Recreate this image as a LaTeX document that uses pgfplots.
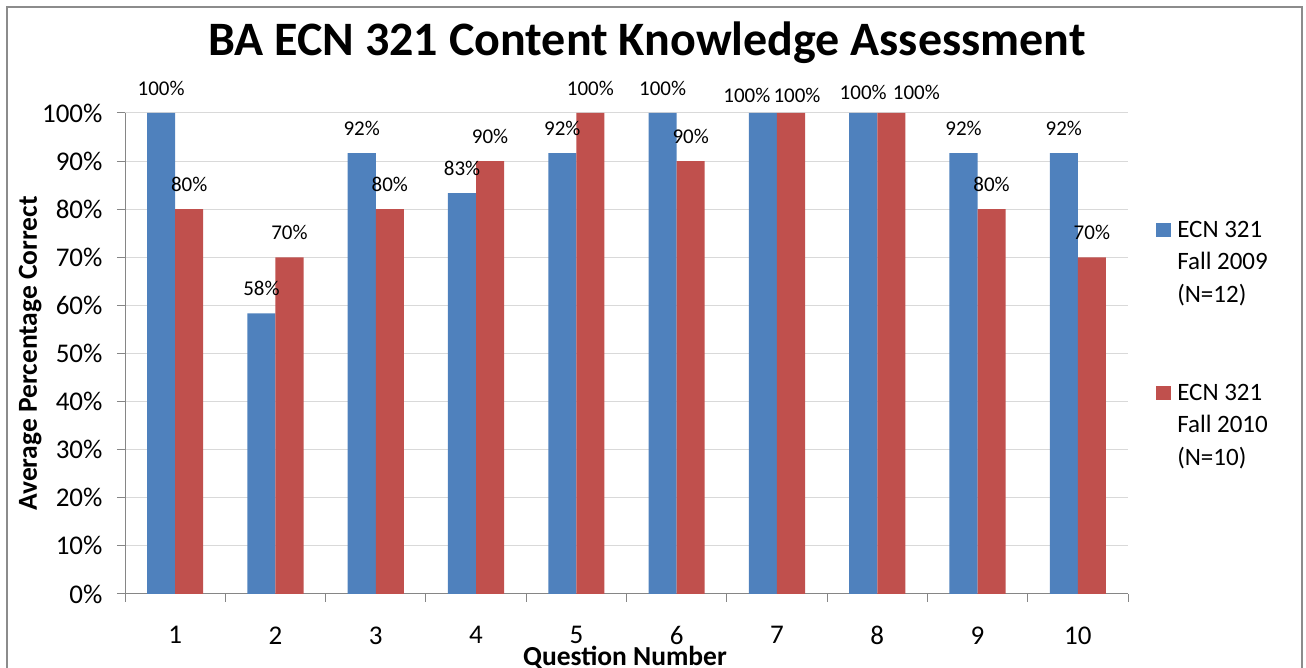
\documentclass[border=0pt]{standalone}
\usepackage{fontspec}
\setmainfont{Carlito}
\usepackage{pgfplots}
\usepackage{pgfplotstable}
\pgfplotsset{compat=1.18}
\definecolor{cblue}{HTML}{4F81BD}
\definecolor{cred}{HTML}{C0504D}
\definecolor{axgray}{HTML}{868686}
\definecolor{gridgray}{HTML}{D9D9D9}
\definecolor{framegray}{HTML}{8C8C8C}

% q: question; a: Fall 2009; b: Fall 2010
% la/lb: x position of the data label; dya/dyb: label offset above bar (pt)
\pgfplotstableread{
q  a     la    dya  b    lb    dyb
1  100   0.86  25   80   1.14  25
2  58.33 1.86  25   70   2.14  25
3  91.67 2.86  25   80   3.14  25
4  83.33 3.86  25   90   4.14  25
5  91.67 4.86  25   100  5.14  25
6  100   5.86  25   90   6.14  25
7  100   6.70  18   100  7.20  18
8  100   7.86  21   100  8.39  21
9  91.67 8.86  25   80   9.14  25
10 91.67 9.86  25   70   10.14 25
}\data

\begin{document}
\begin{tikzpicture}[x=1pt,y=1pt]
\useasboundingbox (0,0) rectangle (1306,668);
\draw[framegray, line width=2pt] (7,-10) rectangle (1302,661);
\node[font=\fontsize{48}{56}\selectfont\bfseries] at (647,625) {BA ECN 321 Content Knowledge Assessment};
\begin{axis}[
  at={(125pt,74pt)}, anchor=south west,
  scale only axis, width=1003pt, height=481pt,
  xmin=0.5, xmax=10.5, ymin=0, ymax=100,
  clip=false,
  axis x line*=bottom, axis y line*=left,
  axis line style={draw=axgray, line width=1pt, -},
  xtick={1,...,10},
  major x tick style={draw=none},
  minor xtick={0.5,1.5,...,10.5},
  minor x tick style={draw=axgray, line width=1pt},
  ytick={0,10,...,100},
  y tick style={draw=axgray, line width=1pt},
  tick align=outside,
  major tick length=8pt, minor tick length=8pt,
  ymajorgrids, grid style={gridgray, line width=1pt},
  yticklabel={\pgfmathprintnumber{\tick}\%},
  /pgf/number format/assume math mode=true,
  tick label style={font=\fontsize{27}{31}\selectfont},
  xticklabel style={yshift=-21pt},
  yticklabel style={xshift=-11pt},
  xlabel={\bfseries Question Number},
  ylabel={\bfseries Average Percentage Correct},
  label style={font=\fontsize{27.5}{31}\selectfont},
  xlabel style={at={(0.4985,0)}, anchor=base, yshift=-72pt},
  ylabel style={at={(0,0.5)}, anchor=south, yshift=80pt},
  legend style={at={(1.025,0.520)}, anchor=west, draw=none, fill=none,
    font=\fontsize{25}{32.5}\selectfont, row sep=76pt,
    nodes={align=left, inner xsep=6pt}},
  legend cell align=left,
  legend image code/.code={\fill[#1] (0pt,25.5pt) rectangle (15pt,39.5pt);},
]
\addplot[ybar, fill=cblue, draw=none, bar width=0.28, bar shift=-0.14]
  table[x=q, y=a]{\data};
\addlegendentry{ECN 321\\Fall 2009\\(N=12)}
\addplot[ybar, fill=cred, draw=none, bar width=0.28, bar shift=0.14]
  table[x=q, y=b]{\data};
\addlegendentry{ECN 321\\Fall 2010\\(N=10)}
% data labels
\addplot[draw=none, mark=none, forget plot,
  point meta=explicit,
  visualization depends on={\thisrow{dya} \as \labdy},
  nodes near coords={\pgfmathprintnumber[fixed,precision=0]{\pgfplotspointmeta}\%},
  every node near coord/.append style={font=\fontsize{21}{25}\selectfont, anchor=center, text=black, yshift=\labdy pt}]
  table[x=la, y=a, meta=a]{\data};
\addplot[draw=none, mark=none, forget plot,
  point meta=explicit,
  visualization depends on={\thisrow{dyb} \as \labdy},
  nodes near coords={\pgfmathprintnumber[fixed,precision=0]{\pgfplotspointmeta}\%},
  every node near coord/.append style={font=\fontsize{21}{25}\selectfont, anchor=center, text=black, yshift=\labdy pt}]
  table[x=lb, y=b, meta=b]{\data};
\end{axis}
\end{tikzpicture}
\end{document}
